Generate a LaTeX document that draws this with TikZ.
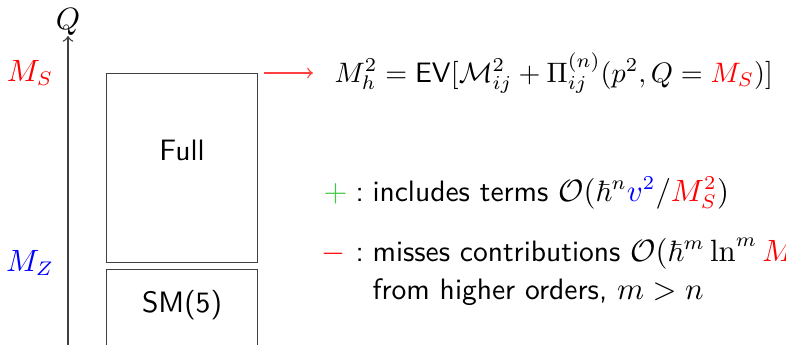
\documentclass[tikz,border=0pt]{standalone}
\usepackage{amsmath,amssymb}
\usetikzlibrary{positioning}
\definecolor{plusgreen}{RGB}{70,200,70}

\begin{document}
\begin{tikzpicture}[
x=0.0125cm,y=-0.0125cm,
font=\fontsize{10.5}{12.5}\selectfont\sffamily,
box/.style={draw=black!75,line width=0.5pt,minimum width=1.8875cm,inner sep=0pt},
arr/.style={->,line width=0.5pt},
lbl/.style={anchor=base west,inner sep=0pt}
]
\useasboundingbox (0,0) rectangle (786,344);
% scale axis
\coordinate (axbot) at (68,350);
\coordinate (axtop) at (68,36);
\draw[arr,black!75] (axbot)--(axtop);
\node[above=-1pt of axtop,inner sep=1pt] (q) {$Q$};
\node (ms) at (30,73) {$\color{red}M_S$};
\node (mz) at (30,263) {$\color{blue}M_Z$};
% regions
\node[box,minimum height=2.3625cm,anchor=north west] (full) at (106,73) {};
\node[box,minimum height=1.2cm,anchor=north west] (sm) at (106,269) {};
\node (fulltxt) at (182,150) {Full};
\node (smtxt) at (182,305) {SM(5)};
% matching
\node[lbl,font=\fontsize{10}{12}\selectfont\sffamily] (ev) at (334,82) {$M_h^2 = \mathsf{EV}[\mathcal{M}^2_{ij} + \Pi^{(n)}_{ij}(p^2, Q = \textcolor{red}{M_S})]$};
\draw[arr,red!75] ([xshift=4\pgflinewidth]full.north east)--([xshift=-7.5pt]ev.west|-full.north);
% legend
\node[lbl] (plus) at (323,201) {$\color{plusgreen}+$};
\node[lbl] (pcol) at (355,201) {:};
\node[lbl] (incl) at (372,201) {includes terms $\mathcal{O}(\hbar^n\textcolor{blue}{v^2}/\textcolor{red}{M_S^2})$};
\node[lbl] (minus) at (321,261) {$\color{red}-$};
\node[lbl] (mcol) at (355,261) {:};
\node[lbl] (miss) at (372,261) {misses contributions $\mathcal{O}(\hbar^m\ln^m\textcolor{red}{M_S})$};
\node[lbl] (orders) at (372,299) {from higher orders, $m>n$};
\end{tikzpicture}
\end{document}
